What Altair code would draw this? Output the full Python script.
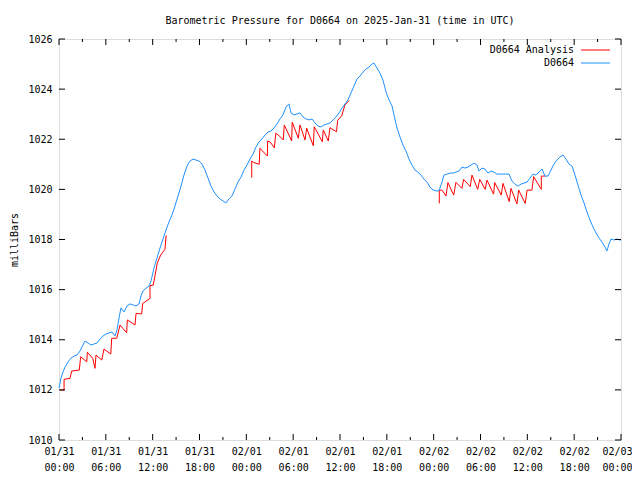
import json
import altair as alt
import pandas as pd

# ---------------- data ----------------
title_text = "Barometric Pressure for D0664 on 2025-Jan-31 (time in UTC)"
y_title = "milliBars"
series_names = ["D0664 Analysis", "D0664"]
series_colors = ["#ff0000", "#1e90ff"]

# hours since 2025-01-31 00:00 UTC
obs_hours = [
    0.00, 0.26, 0.51, 0.77, 1.15, 1.54, 1.92, 2.31, 2.69, 3.07,
    3.33, 3.72, 4.10, 4.48, 4.87, 5.25, 5.64, 6.02, 6.41, 6.79,
    7.17, 7.43, 7.69, 7.94, 8.33, 8.71, 9.10, 9.48, 9.86, 10.25,
    10.51, 10.76, 11.15, 11.53, 11.79, 12.17, 12.55, 12.94, 13.32, 13.71,
    14.09, 14.48, 14.86, 15.25, 15.63, 16.01, 16.40, 16.78, 17.17, 17.55,
    17.94, 18.32, 18.70, 19.09, 19.47, 19.86, 20.24, 20.63, 21.01, 21.39,
    21.78, 22.16, 22.55, 22.93, 23.32, 23.70, 24.08, 24.47, 24.85, 25.24,
    25.62, 26.01, 26.39, 26.78, 27.16, 27.54, 27.93, 28.31, 28.70, 29.08,
    29.47, 29.72, 30.11, 30.49, 30.87, 31.26, 31.64, 32.03, 32.41, 32.80,
    33.18, 33.56, 33.95, 34.33, 34.72, 35.10, 35.49, 35.87, 36.26, 36.64,
    37.02, 37.41, 37.79, 38.18, 38.56, 38.95, 39.33, 39.71, 40.10, 40.35,
    40.74, 41.12, 41.51, 41.89, 42.28, 42.66, 42.92, 43.30, 43.69, 44.07,
    44.45, 44.84, 45.22, 45.61, 45.99, 46.38, 46.76, 47.14, 47.53, 47.91,
    48.30, 48.68, 49.07, 49.32, 49.71, 50.09, 50.48, 50.86, 51.24, 51.63,
    52.01, 52.40, 52.78, 53.17, 53.55, 53.81, 54.19, 54.58, 54.96, 55.34,
    55.73, 56.11, 56.50, 56.88, 57.27, 57.65, 58.03, 58.42, 58.80, 59.19,
    59.57, 59.96, 60.34, 60.72, 61.11, 61.49, 61.88, 62.26, 62.65, 63.03,
    63.41, 63.80, 64.18, 64.57, 64.95, 65.34, 65.72, 66.11, 66.49, 66.87,
    67.26, 67.64, 68.03, 68.41, 68.80, 69.18, 69.56, 69.95, 70.20, 70.46,
    70.72, 71.10, 71.49, 71.87, 72.00,
]
obs_pressure = [
    1012.07, 1012.47, 1012.71, 1012.91, 1013.11, 1013.27, 1013.35, 1013.39, 1013.55, 1013.79,
    1013.95, 1013.87, 1013.79, 1013.83, 1013.87, 1014.03, 1014.15, 1014.23, 1014.27, 1014.31,
    1014.15, 1014.39, 1014.87, 1015.27, 1015.11, 1015.35, 1015.43, 1015.39, 1015.35, 1015.43,
    1015.75, 1015.95, 1016.06, 1016.14, 1016.34, 1016.86, 1017.26, 1017.66, 1018.02, 1018.38,
    1018.70, 1018.98, 1019.34, 1019.74, 1020.13, 1020.57, 1020.93, 1021.13, 1021.21, 1021.17,
    1021.13, 1021.01, 1020.77, 1020.45, 1020.13, 1019.90, 1019.74, 1019.62, 1019.54, 1019.46,
    1019.62, 1019.74, 1020.01, 1020.29, 1020.49, 1020.77, 1020.97, 1021.21, 1021.41, 1021.69,
    1021.89, 1022.01, 1022.17, 1022.29, 1022.33, 1022.45, 1022.61, 1022.81, 1022.97, 1023.29,
    1023.41, 1023.05, 1022.97, 1023.01, 1023.05, 1022.89, 1022.81, 1022.77, 1022.81, 1022.65,
    1022.53, 1022.49, 1022.57, 1022.61, 1022.65, 1022.77, 1022.89, 1023.05, 1023.25, 1023.41,
    1023.57, 1023.85, 1024.12, 1024.40, 1024.52, 1024.68, 1024.80, 1024.88, 1025.00, 1025.04,
    1024.84, 1024.64, 1024.36, 1023.89, 1023.57, 1023.33, 1022.97, 1022.45, 1022.09, 1021.77,
    1021.53, 1021.21, 1020.97, 1020.77, 1020.69, 1020.57, 1020.41, 1020.29, 1020.09, 1019.98,
    1019.94, 1019.94, 1020.29, 1020.57, 1020.61, 1020.65, 1020.65, 1020.69, 1020.73, 1020.89,
    1020.85, 1020.89, 1020.97, 1021.05, 1020.97, 1020.73, 1020.85, 1020.81, 1020.65, 1020.73,
    1020.69, 1020.61, 1020.61, 1020.61, 1020.61, 1020.61, 1020.33, 1020.21, 1020.13, 1020.21,
    1020.25, 1020.29, 1020.45, 1020.61, 1020.57, 1020.69, 1020.81, 1020.53, 1020.53, 1020.77,
    1021.01, 1021.17, 1021.29, 1021.37, 1021.21, 1021.01, 1020.93, 1020.57, 1020.17, 1019.78,
    1019.46, 1019.10, 1018.78, 1018.50, 1018.26, 1018.06, 1017.90, 1017.70, 1017.54, 1017.82,
    1018.02, 1017.98, 1018.02, 1017.98, 1017.98,
]

# analysis: three separate runs
ana1_hours = [0.14, 0.65, 0.65, 1.41, 1.62, 2.60, 2.78, 3.56, 3.63, 4.32, 4.61, 4.74, 5.48,
              5.76, 6.63, 6.75, 7.40, 7.82, 8.16, 8.67, 8.75, 9.74, 9.87, 10.59, 10.73,
              11.66, 11.66, 12.08, 12.59, 13.02, 13.58, 13.71, 13.83]
ana1_pressure = [1011.99, 1011.99, 1012.42, 1012.46, 1012.75, 1012.79, 1013.32, 1013.12,
                 1013.50, 1013.26, 1012.86, 1013.39, 1013.19, 1013.63, 1013.43, 1014.06,
                 1014.06, 1014.59, 1014.46, 1014.28, 1014.79, 1014.59, 1015.05, 1015.03,
                 1015.45, 1015.65, 1016.16, 1016.18, 1017.05, 1017.38, 1017.61, 1018.14,
                 1018.14]
ana2_hours = [24.69, 24.69, 24.89, 25.65, 25.74, 26.69, 26.73, 27.03, 27.59, 27.77, 28.10,
              28.73, 28.86, 29.81, 29.88, 30.66, 30.87, 31.52, 31.73, 32.58, 32.70, 33.74,
              33.86, 34.50, 34.71, 35.55, 35.70, 36.23, 36.63, 37.20]
ana2_pressure = [1020.47, 1021.13, 1021.08, 1021.00, 1021.64, 1021.33, 1021.93, 1021.90,
                 1021.66, 1022.24, 1022.17, 1021.97, 1022.57, 1021.93, 1022.68, 1022.04,
                 1022.57, 1021.97, 1022.44, 1021.74, 1022.50, 1021.90, 1022.37, 1021.93,
                 1022.46, 1022.30, 1022.75, 1022.95, 1023.37, 1023.55]
ana3_hours = [48.72, 48.72, 49.07, 49.58, 49.83, 50.57, 50.85, 51.62, 51.84, 52.68, 52.91,
              53.64, 53.90, 54.60, 54.83, 55.68, 55.82, 56.66, 56.88, 57.68, 57.90, 58.67,
              58.89, 59.73, 59.96, 60.59, 60.81, 61.79, 61.79, 62.30]
ana3_pressure = [1019.44, 1019.97, 1019.97, 1019.74, 1020.27, 1019.77, 1020.28, 1020.04,
                 1020.40, 1020.11, 1020.57, 1020.00, 1020.40, 1020.00, 1020.37, 1019.81,
                 1020.27, 1019.77, 1020.24, 1019.51, 1020.04, 1019.42, 1019.97, 1019.44,
                 1019.97, 1019.97, 1020.51, 1020.00, 1020.53, 1020.53]

x_major_ticks = [0, 6, 12, 18, 24, 30, 36, 42, 48, 54, 60, 66, 72]
x_minor_ticks = [3, 9, 15, 21, 27, 33, 39, 45, 51, 57, 63, 69]
x_date_labels = ["01/31", "01/31", "01/31", "01/31", "02/01", "02/01", "02/01",
                 "02/01", "02/02", "02/02", "02/02", "02/02", "02/03"]
x_time_labels = ["00:00", "06:00", "12:00", "18:00", "00:00", "06:00", "12:00",
                 "18:00", "00:00", "06:00", "12:00", "18:00", "00:00"]
y_ticks = [1010, 1012, 1014, 1016, 1018, 1020, 1022, 1024, 1026]

# ---------------- tables ----------------
obs_df = pd.DataFrame({"hours": obs_hours, "pressure": obs_pressure})
obs_df["idx"] = range(len(obs_df))

parts = []
for seg, (h, p) in enumerate([(ana1_hours, ana1_pressure),
                              (ana2_hours, ana2_pressure),
                              (ana3_hours, ana3_pressure)]):
    d = pd.DataFrame({"hours": h, "pressure": p})
    d["seg"] = seg
    d["idx"] = range(len(d))
    parts.append(d)
ana_df = pd.concat(parts, ignore_index=True)

W, H = 562, 401
FONT = "DejaVu Sans Mono"
FS = 10
MAJ, MIN = 6, 3

x_scale = alt.Scale(domain=[0, 72], nice=False, zero=False)
y_scale = alt.Scale(domain=[1010, 1026], nice=False, zero=False)

lab_expr = (
    f"[{json.dumps(x_date_labels)}[round(datum.value/6)], "
    f"{json.dumps(x_time_labels)}[round(datum.value/6)]]"
)

x_axis = alt.Axis(values=x_major_ticks, labelExpr=lab_expr, ticks=False, domain=False,
                  grid=False, labelPadding=6, labelFont=FONT, labelFontSize=FS,
                  labelLineHeight=16, labelColor="black", title=None, labelBaseline="top",
                  labelFlush=False, labelOverlap=False,
                  labelOffset={"condition": {"test": f"datum.value == {x_major_ticks[-1]}",
                                             "value": -4}, "value": 0})
y_axis = alt.Axis(values=y_ticks, format="d", ticks=False, domain=False, grid=False,
                  labelPadding=7, labelFont=FONT, labelFontSize=FS, labelColor="black",
                  title=y_title, titleFont=FONT, titleFontSize=FS, titleFontWeight="normal",
                  titleAngle=270, titleX=-42, titleY=H / 2, titleAlign="center",
                  titleBaseline="alphabetic", titleColor="black", labelFlush=False)

ana_line = alt.Chart(ana_df).mark_line(color=series_colors[0], strokeWidth=1).encode(
    x=alt.X("hours:Q", scale=x_scale, axis=x_axis),
    y=alt.Y("pressure:Q", scale=y_scale, axis=y_axis),
    detail="seg:N",
    order="idx:Q",
)
obs_line = alt.Chart(obs_df).mark_line(color=series_colors[1], strokeWidth=1).encode(
    x=alt.X("hours:Q", scale=x_scale),
    y=alt.Y("pressure:Q", scale=y_scale),
    order="idx:Q",
)

ytick_df = pd.DataFrame({"v": y_ticks})
xmaj_df = pd.DataFrame({"h": x_major_ticks})
xmin_df = pd.DataFrame({"h": x_minor_ticks})

def yrule(x1, x2):
    return alt.Chart(ytick_df).mark_rule(color="black", strokeWidth=1).encode(
        y=alt.Y("v:Q", scale=y_scale), x=alt.value(x1), x2=alt.value(x2))

def xrule(df, y1, y2):
    return alt.Chart(df).mark_rule(color="black", strokeWidth=1).encode(
        x=alt.X("h:Q", scale=x_scale), y=alt.value(y1), y2=alt.value(y2))

ticks = [
    yrule(0, MAJ), yrule(W, W - MAJ),
    xrule(xmaj_df, H, H - MAJ), xrule(xmaj_df, 0, MAJ),
    xrule(xmin_df, H, H - MIN), xrule(xmin_df, 0, MIN),
]

legend = []
for i, (name, col) in enumerate(zip(series_names, series_colors)):
    ly = 11 + 13 * i
    ldf = pd.DataFrame({"name": [name]})
    legend.append(alt.Chart(ldf).mark_text(align="right", baseline="middle", font=FONT,
                                           fontSize=FS, color="black").encode(
        text="name:N", x=alt.value(515), y=alt.value(ly)))
    legend.append(alt.Chart(ldf).mark_rule(color=col, strokeWidth=1).encode(
        x=alt.value(522), x2=alt.value(551), y=alt.value(ly)))

chart = alt.layer(ana_line, obs_line, *ticks, *legend).properties(
    width=W, height=H,
    title=alt.TitleParams(text=title_text, font=FONT, fontSize=FS, fontWeight="normal",
                          anchor="middle", color="black", offset=8),
    padding={"left": 51, "top": 31, "right": 11, "bottom": 32},
    autosize=alt.AutoSizeParams(type="none"),
).configure_view(stroke="black", strokeWidth=1).configure(background="white")

chart.save("out.html", embed_options={"renderer": "svg", "actions": False})
